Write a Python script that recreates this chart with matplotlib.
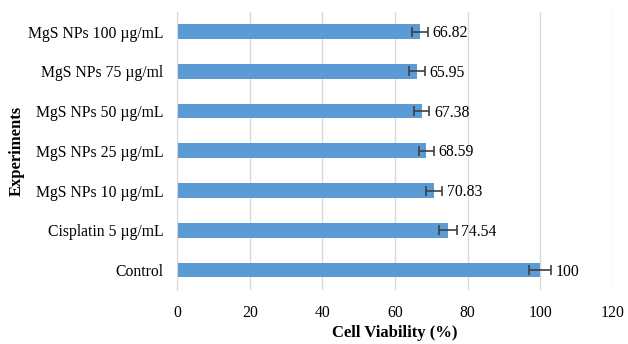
import matplotlib
matplotlib.use("Agg")
import matplotlib.pyplot as plt

labels = ["Control", "Cisplatin 5 µg/mL", "MgS NPs 10 µg/mL", "MgS NPs 25 µg/mL",
          "MgS NPs 50 µg/mL", "MgS NPs 75 µg/ml", "MgS NPs 100 µg/mL"]
viability = [100, 74.54, 70.83, 68.59, 67.38, 65.95, 66.82]
errors = [3.0, 2.4, 2.2, 2.1, 2.1, 2.2, 2.2]
xticks = [0, 20, 40, 60, 80, 100, 120]

plt.rcParams["font.family"] = ["Liberation Serif", "DejaVu Serif"]

fig = plt.figure(figsize=(6.28, 3.44), dpi=100)
ax = fig.add_axes([0.282, 0.157, 0.694, 0.809])
y = range(len(labels))
ax.barh(y, viability, height=0.37, color="#5B9BD5", zorder=2,
        xerr=errors, error_kw=dict(ecolor="#404040", elinewidth=1.2, capsize=3.5, capthick=1.2))
for i, (v, e) in enumerate(zip(viability, errors)):
    ax.text(v + e + 1.3, i - 0.04, f"{v:g}", va="center", ha="left", fontsize=11.3, zorder=3)

ax.set_xlim(0, 120)
ax.set_ylim(-0.5, len(labels) - 0.5)
ax.set_xticks(xticks)
ax.set_yticks(list(y))
ax.set_yticklabels(labels, fontsize=11.3)
ax.tick_params(axis="x", labelsize=11.3, length=0, pad=11)
ax.tick_params(axis="y", length=0, pad=10)
ax.grid(axis="x", color="#d9d9d9", lw=1, zorder=0)
for s in ["top", "right", "bottom"]:
    ax.spines[s].set_visible(False)
ax.spines["left"].set_color("#d9d9d9")
ax.set_xlabel("Cell Viability (%)", fontsize=12, fontweight="bold", labelpad=3)
ax.set_ylabel("Experiments", fontsize=12, fontweight="bold")
ax.yaxis.set_label_coords(-0.35, 0.5)

fig.savefig("out.png", dpi=100)
